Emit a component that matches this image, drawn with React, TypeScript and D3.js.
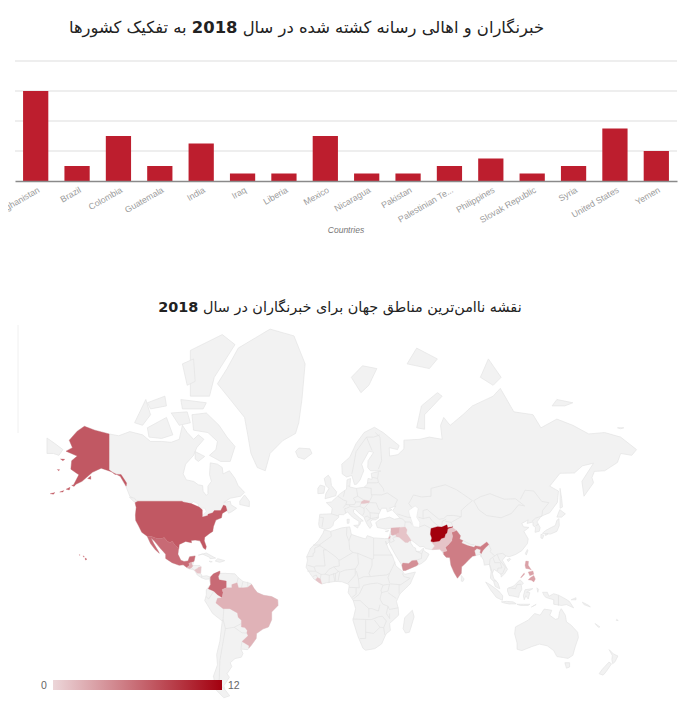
import React, { useEffect, useRef } from 'react';
import * as d3 from 'd3';

type Pt = [number, number];

const countries = ['Afghanistan', 'Brazil', 'Colombia', 'Guatemala', 'India', 'Iraq', 'Liberia', 'Mexico', 'Nicaragua', 'Pakistan', 'Palestinian Te...', 'Philippines', 'Slovak Republic', 'Syria', 'United States', 'Yemen'];
const deaths = [12, 2, 6, 2, 5, 1, 1, 6, 1, 1, 2, 3, 1, 2, 7, 4];
const yTicks = [0, 4, 8, 12, 16];

const titleBefore = 'خبرنگاران و اهالی رسانه کشته شده در سال ';
const titleAfter = ' به تفکیک کشورها';
const mapTitleBefore = 'نقشه ناامن‌ترین مناطق جهان برای خبرنگاران در سال ';
const year = '2018';

// outlines in lon/lat, all go through the mercator scales below
const land: Pt[][] = [
  // north america
  [[-168,65.6],[-164,66.5],[-166,68.3],[-161,70.3],[-156.5,71.3],[-150,70.5],[-141,69.7],[-135,69.3],[-128,70.2],[-120,69.5],[-115,68],[-108,68],[-102,67.8],[-97,68.5],[-95,71.5],[-92,70],[-88,68.5],[-85,69.5],[-81.5,68.5],[-86,66.5],[-88,64.5],[-93,62],[-94.5,59],[-92.5,57],[-88,56.5],[-85,55.3],[-82.3,55],[-82,52.9],[-80,51.3],[-79,52],[-79,54.8],[-76.8,56.5],[-78,58.8],[-77.5,62.4],[-73,62],[-70,61],[-69.5,59],[-65.5,60],[-62,57.5],[-60,55],[-56,52.5],[-58.5,51],[-65,50.2],[-69,48.5],[-65,49],[-64.5,47.5],[-61,46],[-64,44.5],[-66,43.8],[-67,45],[-70,43.7],[-70.5,41.7],[-74,40.6],[-75.5,37.5],[-76,35],[-78,33.9],[-81,32],[-81.3,30],[-80,26.8],[-80.5,25.2],[-81.8,26],[-82.8,28],[-84,30],[-87,30.4],[-89.5,30.2],[-89.3,29],[-93,29.7],[-97,28],[-97.5,25],[-97.8,22.4],[-96,19],[-94,18.2],[-91.5,18.5],[-90.5,21],[-87,21.5],[-87.7,18.3],[-88.7,15.9],[-84,15.8],[-83.3,14.9],[-83.6,11],[-82.5,9.2],[-79.7,9.5],[-77.4,8.7],[-78.3,7.5],[-80.5,7.3],[-83,8.3],[-85.7,10],[-87.5,13],[-91.5,14],[-94.5,16.2],[-97,15.9],[-101.5,17.5],[-105.5,20],[-105.5,22.5],[-109,26],[-112.7,30],[-114.7,31.5],[-113,28.5],[-110,24],[-109.5,23],[-112,25],[-115,28.5],[-117.1,32.5],[-120.5,34.5],[-122.5,37.8],[-124.3,40.4],[-124.5,43],[-124,46.3],[-124.7,48.4],[-123,49],[-128,51],[-130.3,54.5],[-134,58.2],[-140,59.8],[-146,60.8],[-151.5,59.5],[-154,58.4],[-158,56.5],[-163.5,55],[-160,58.7],[-165,60.5],[-164.5,63],[-161,64.3]],
  // canadian islands
  [[-80,73.8],[-72,71.5],[-67,69],[-62,66.8],[-65,62.8],[-71,62.8],[-78,64.5],[-74,66],[-73,68],[-79,70],[-88,70.5],[-89,73.5]],
  [[-117,71],[-105,73],[-101,69.5],[-108,68.7],[-116,69]],
  [[-125,72],[-118,76],[-115,73.5],[-120,71.5]],
  [[-90,76.5],[-78,76.5],[-75,79],[-62,82.3],[-70,83.1],[-90,81.8]],
  [[-96,76],[-80,75.5],[-82,74.5],[-95,74.5]],
  [[-117,75.5],[-106,76.5],[-105,75],[-115,74.5]],
  [[-95,80.5],[-88,81],[-87,78.5],[-92,78]],
  [[-102,73.8],[-92,74],[-90,72],[-97,71.5]],
  [[-87,65.5],[-81,64.2],[-85,62.8],[-87,63.5]],
  [[-59,47.6],[-53,46.7],[-53,49],[-56,51.5],[-59,49]],
  [[-128.3,50.7],[-125,50.2],[-123.4,48.4],[-125.5,48.8]],
  // caribbean
  [[-85,21.9],[-80,23.2],[-74.2,20.2],[-77.7,19.9],[-78,20.7],[-82.5,22.6]],
  [[-74.4,18.5],[-72.8,19.9],[-68.4,18.7],[-71.5,17.7]],
  [[-78.3,18.4],[-76.3,18.1],[-77.2,17.8]],
  // greenland, iceland
  [[-73,78.2],[-67,80],[-60,82],[-40,83.5],[-25,83],[-18,80.5],[-20,76],[-22,72],[-24,69.8],[-32,68.2],[-40,65],[-43,60],[-48,61],[-52,65],[-54,69.5],[-56,73],[-65,76]],
  [[-24,65.5],[-22,66.4],[-15,66.2],[-13.7,65],[-18.5,63.4],[-22.5,64]],
  // south america
  [[-77.4,8.7],[-75.5,10.7],[-71.5,12.4],[-71.5,11],[-68,11],[-62,10.7],[-60,8.4],[-57,6],[-52,4.7],[-50,1.5],[-48,-1],[-44,-2.7],[-39,-3.5],[-35.2,-5.5],[-35,-9],[-39,-13],[-39,-17.8],[-41,-22],[-44.5,-23.2],[-48.5,-25.8],[-48.7,-28.5],[-52,-32.5],[-54,-34.5],[-58.3,-34.2],[-57,-36.5],[-58,-38.3],[-62,-39],[-65,-41],[-64,-42.8],[-67,-46],[-65.5,-47.5],[-69,-51],[-68.3,-52.5],[-65.3,-54.8],[-69,-55.5],[-74,-52.5],[-75.5,-47],[-73,-42],[-73.5,-37],[-71.5,-30],[-70,-18.5],[-76,-14],[-81,-6],[-80,-2.5],[-80,0.8],[-77.3,4],[-78,7.5]],
  // africa
  [[-6,35.8],[-2,35],[5,36.8],[10,37.3],[11,33.5],[15,32.3],[20,31],[21,32.8],[25,31.6],[32,31.2],[34.3,31.3],[34.9,29.5],[33,28],[32.5,29.9],[34,26],[37,21],[39,15.5],[43.3,12],[44.5,10.4],[51.2,11.8],[48,4.5],[41.5,-1.8],[39.3,-6.5],[40.5,-11],[40.7,-15],[35,-20],[35.5,-24],[32.8,-26],[30,-31.5],[25.7,-34],[20,-34.8],[18.3,-33.8],[15,-27],[12,-18],[13.7,-11],[12.2,-6],[9,-1],[9.7,3.5],[8.5,4.5],[5,5.8],[1,6],[-4.5,5.2],[-7.5,4.4],[-12.5,7.5],[-15,11],[-17.4,14.7],[-16.5,19],[-17,21],[-14.5,26],[-9.7,30],[-6.8,34]],
  // eurasia
  [[-9,37],[-9.5,38.7],[-8.8,43.3],[-1.5,43.5],[-1,46],[-4.7,48.4],[-1.5,48.7],[1.5,50.5],[4,52],[8,53.7],[8.3,57],[10.5,57.5],[10,54.5],[14,54],[19,54.4],[21,55.5],[21.5,57.5],[24,57.2],[23.5,59.2],[29.5,59.9],[23,60],[21.3,61],[21.5,63],[25,65.3],[22,65.6],[17.5,62],[18.8,60],[16.5,57],[14.3,55.5],[13,55.4],[11.3,58.5],[8,58],[5.3,59],[5,62],[10,64],[14,67.5],[19,70],[25.5,71.1],[31,70],[41,67],[40,66],[34.8,66.5],[35,64.3],[38,64.5],[40.3,64.7],[44,66.2],[44,68.3],[54,68.5],[60,69],[68,68.5],[67,71.5],[69,73],[73,71.5],[75,72],[81,73.5],[87,75],[100,76.5],[104.5,77.6],[113,74],[125,73.5],[130,71],[140,72.7],[150,71.5],[160,69.7],[170,70],[180,69],[190,66],[187,64.5],[180,65],[178,62.5],[170,60],[163.5,59.8],[162,57.8],[163,56],[157,51],[155.7,56.5],[163,62.3],[156,61.5],[151,59.3],[142,59.2],[135.5,54.8],[141,53],[140.3,48.5],[135.5,44],[132,43],[130,42.3],[127.5,39.7],[129.5,37],[129,35.1],[126.3,34.5],[126.6,37],[125,38],[125,39.7],[121.3,39],[122,40.7],[118,39],[119,37.3],[122.5,37],[119.3,35],[122,31],[121.5,28.5],[118,24.5],[114,22.3],[110,21],[108,21.5],[105.8,19],[109,13.5],[107,10.5],[105,8.7],[105,10.3],[102.5,12.2],[100.5,13.5],[99.5,11],[100.3,8],[103,5],[104.2,1.4],[101.3,2.8],[100.3,6],[98.3,8],[98.7,12],[97.7,16.5],[94.5,16],[94,19],[91.8,22.4],[89,21.7],[87,21.3],[85,19.5],[82,16.5],[80.2,15],[80,11],[77.6,8],[75.5,11.5],[73.5,16],[72.8,20.5],[70.5,20.7],[69,22.3],[67.5,24.5],[66.5,25.4],[61.5,25.1],[57.5,25.7],[56.6,27],[54,26.7],[50.8,29],[48.8,30.3],[47.9,29.9],[48.5,28.5],[50,26.5],[51.3,26],[51.6,24.2],[54,24.1],[56.3,26],[56.5,24.5],[59.8,22.5],[57.7,19],[55,17],[52,15.7],[45,12.8],[43.5,12.7],[42.7,16],[39,21.5],[35,28],[34.9,29.5],[34.3,31.3],[35,33],[36,35.9],[36,36.7],[32.5,36.1],[30.5,36.5],[27.3,37],[26.3,39.4],[29,41],[31,41.2],[35,42],[38,41],[41.5,41.5],[39,43.5],[37,45],[39,47],[35,46],[36.5,45.3],[33.6,44.4],[33,46],[30,46],[28,43],[28,41.5],[26,40.7],[24,40.7],[23,39.8],[24,38],[22.7,36.5],[21,38.4],[19.4,41],[19,42],[15.5,44],[13.5,45.6],[12.3,45.3],[12.5,44],[16,41.8],[18.5,40.2],[16.8,40],[16.5,38.5],[15.7,38],[15.8,40],[12.3,41.7],[10.3,43],[8.7,44.4],[6,43.1],[3.2,43.2],[3,41.8],[0,39.8],[-0.5,38],[-2,36.8],[-5.5,36]],
  // chukotka piece left of alaska
  [[-180,68.8],[-175,67.5],[-170,66],[-172.5,64.5],[-176,65],[-180,65]],
  // europe and arctic islands
  [[-5.5,50],[1.3,51.2],[1.7,52.7],[-1.5,55],[-2,57.5],[-3.5,58.6],[-6,57.5],[-5,55],[-3,54],[-5,52]],
  [[-10,52],[-6.2,52.2],[-5.6,54.7],[-8.5,55.2],[-10,54]],
  [[12.5,38],[15.5,38.2],[15,36.7]],
  [[8.3,41],[9.7,41],[9.5,39.1],[8.5,39]],
  [[32.3,35],[34.5,35.6],[33.8,34.8]],
  [[11,79],[17,77],[22,78],[27,80],[18,80.3]],
  [[52,71],[57,70.7],[57,73.5],[68,76.5],[65,77],[55,75]],
  [[46,80.5],[60,80],[65,81],[52,82]],
  [[92,79],[100,78],[105,79],[97,81]],
  [[137,75],[145,75],[150,75.5],[140,76]],
  [[178,71],[182,71],[180,70.8]],
  // east asia
  [[142,54],[143,50],[143.5,46.5],[142,46],[142,50]],
  [[130.9,34],[136,33.6],[140,35],[141.5,38],[141.3,41.3],[140,40.5],[139,38],[136.5,37],[133,35.5]],
  [[140,42],[141.8,45.4],[145.3,43.5],[143,42]],
  [[130,33.5],[131.8,33],[131,31.2],[130,31.5]],
  [[132.5,33.5],[134.5,34],[134,33.3],[132.8,32.9]],
  [[120.2,23],[121.5,25.2],[121.8,24.5],[120.8,22]],
  [[108.7,19.3],[110.5,20],[111,19.5],[109.5,18.2]],
  [[80,9.7],[81.8,7.5],[81,6],[80,6.2]],
  // indonesia and the pacific
  [[95.3,5.6],[98,4],[103.5,0],[106,-3],[105.8,-5.8],[102,-4],[98.5,0.5]],
  [[105.2,-6.8],[108.5,-6.5],[112.5,-6.8],[114.5,-8],[110,-8.1],[106.5,-7.4]],
  [[109,1.5],[111.3,2.5],[113,3.2],[116.8,7],[119,5],[117.7,3.5],[118,1],[116.5,-1.5],[116,-4],[113,-3.3],[110,-2.8],[109,0]],
  [[119.5,-5.5],[119,-3],[120,0.8],[124.9,1.5],[121,-0.8],[123,-1],[122,-5],[120.5,-3]],
  [[131,-0.8],[134,-0.8],[135,-3.3],[138,-1.7],[141,-2.6],[145.5,-5],[147.8,-6.5],[150.5,-10.5],[146,-8.5],[143,-9],[138,-8.3],[138,-5.5],[133,-4],[132,-2.8]],
  [[115,-8.3],[119,-8.3],[123,-8.3],[122,-9],[117,-9]],
  [[124,-10],[127,-8.4],[125,-9.5]],
  [[127.5,2],[128.5,1],[128,-0.8]],
  [[149,-5.5],[152,-4.2],[152,-5.5]],
  [[156,-7],[160,-9],[161,-10],[157,-8.5]],
  [[164,-20],[167,-22],[166,-22.2]],
  [[177.5,-17.5],[178.5,-18.2],[177.3,-18.2]],
  // australia, nz, madagascar
  [[114,-22],[113.5,-26],[115,-31],[115,-34.3],[118,-35],[124,-33],[129,-31.6],[134,-32.5],[138,-35],[140,-38],[144,-38.5],[147,-38.9],[150,-37.4],[151.5,-33],[153.5,-28],[153,-25],[149,-21],[146,-19],[145.3,-15],[142.7,-11],[141.7,-13],[141,-17],[139,-17.5],[135.5,-15],[136.8,-12],[132,-11.3],[129.5,-15],[126,-14],[122,-18],[117,-20.5]],
  [[145,-41],[148,-41],[148,-43],[146,-43.5]],
  [[172.8,-34.5],[175.5,-36.7],[178.3,-37.7],[176.5,-40.5],[175,-41.5],[174.5,-39.5],[174.8,-37.5]],
  [[172.7,-40.7],[174.3,-41.5],[171,-45],[169,-46.6],[166.5,-46],[168.5,-44]],
  [[49.3,-12],[50.4,-16],[47.5,-25],[45,-25.5],[43.5,-23],[44.5,-16.5]],
];

const water: Pt[][] = [
  [[47,45],[51,47],[53,46],[52,42],[54,39.5],[53.8,37],[50,37.4],[49,40],[47.5,43]],
  [[-92,46.8],[-88,48.8],[-85,47.8],[-85,46.6],[-87.5,46.5]],
  [[-88,42],[-85,46],[-84.8,45.7],[-86.3,42]],
  [[-84.5,46],[-81,46],[-80,44.5],[-82.3,43],[-83.5,44]],
];

const borders: Pt[][] = [
  // africa
  [[-2,35],[-1.5,32.5],[-8.7,28],[-8.7,27.3]],[[-13,27.7],[-8.7,27.7]],[[-8.7,27.3],[-12,26],[-12,23.4],[-13,23],[-13,21.3],[-17,21]],
  [[-4.8,25],[-6.5,25],[-5.5,15.5],[-11.5,15.5],[-12.2,14.8],[-16.5,16]],[[-8.7,27.3],[-4.8,25],[1.2,21],[3.2,19],[4.2,19.2],[12,23.5],[10,25],[9.5,30],[8,33],[8.2,37]],
  [[9.5,30],[11,33.5]],[[25,31.6],[25,20],[24,19.5],[24,15.7],[22,11],[23,9],[18.8,8.9],[15.5,7.5],[14.2,12.4]],[[24,19.5],[15,23],[12,23.5]],[[25,22],[36.8,22]],
  [[15,23],[15.5,16.8],[13.5,13.7],[7,13],[3.7,11.7],[3,12.5]],[[3.2,19],[3.5,15.5],[0,15],[3,11.9]],[[-5.5,10.5],[-3,13.5],[0,15]],[[-5.5,10.5],[-2.8,9.8],[2,11.3],[3,12.5]],
  [[3.7,11.7],[2.7,6.4]],[[1.2,6.1],[1,11]],[[0.6,6],[-0.2,11]],[[-2.8,9.8],[-3,5]],[[-5.5,10.5],[-8,10.3],[-8.5,7.6]],[[-8,10.3],[-11.5,12.3],[-12.2,14.8]],[[-16.7,12.4],[-11.5,12.3]],[[-13.2,9],[-11,10],[-10.3,8.5]],
  [[13.5,13.7],[13.5,10],[8.8,4.7]],[[9.7,2.3],[16,2]],[[15.5,7.5],[16,2]],[[18.6,3.5],[23,4.5],[27.5,5],[31,3.7],[35,4.3],[34,0],[30,-1],[29.6,0.5],[31,3.7]],[[23,9],[27,9.5],[33,10],[35,11]],
  [[38.5,18],[36.5,14],[35,11],[34,8.5],[35,5]],[[35,4.5],[41,4],[42,4]],[[41.9,3.9],[48,8],[44,9],[43,11]],[[41,4],[41,-1.7]],[[34,-1],[39.2,-4.7]],[[30,-1],[29,-5],[30.7,-8.2],[34,-9.5],[34.9,-11.5],[40.5,-10.5]],
  [[34,-9.5],[33,-14],[35,-17],[35,-14]],[[12.2,-6],[16.5,-6],[22,-11],[24,-11],[28,-12.5],[29,-8.5]],[[12.2,-5],[16,-2],[18.6,3.5]],[[11.5,-4],[14,-2],[14,2]],[[11.8,-17.3],[23.5,-17.7],[28,-16],[30.4,-15.6],[33,-18.5],[31.3,-22.4],[32,-26.5]],
  [[22,-11],[22,-16.3]],[[20,-18],[20,-28.5],[16.5,-28.6]],[[20,-25],[25,-25.7],[29,-22.2],[31.3,-22.4]],[[25.5,-18],[29,-22.2]],
  // south america
  [[-60,8.4],[-60.7,5.2]],[[-57,6],[-58,2]],[[-54,5.8],[-54,2.3]],[[-80.3,-3.4],[-78.5,-5],[-75.3,-0.1]],[[-69,-11],[-69.5,-17.5],[-70,-18.5]],[[-69.5,-17.5],[-68,-23],[-70,-33],[-71.5,-40],[-72,-50],[-68.5,-52.5]],
  [[-68,-23],[-62.5,-22.2],[-58,-20]],[[-62.5,-22.2],[-57.6,-25.4],[-54.6,-25.5]],[[-58.3,-34],[-57.6,-30.2]],
  // central america
  [[-89.3,14.4],[-87.7,13.2]],[[-83,9.7],[-82.9,8.1]],
  // europe
  [[-1.5,43.5],[3.2,42.5]],[[-8.8,42],[-6.5,41.8],[-7.4,37.2]],[[2.5,51],[6,49.5],[8.2,49],[7.5,47.6]],[[6,46.3],[7.5,47.6],[9.5,47.5],[10.4,46.8],[8,46],[6.8,45.8],[7.5,43.8]],[[7,53.3],[6,50.8]],[[8.7,54.9],[10,54.8]],[[14.2,54],[15,51],[12.3,50.2],[13.8,48.7],[13,47.6],[9.5,47.5]],
  [[10.4,46.8],[13.7,46.5],[16.3,46.8],[17,48]],[[13.8,48.7],[17,48.7]],[[15,51],[18.8,49.5]],[[22.5,49.1],[24,51],[23.5,52],[23.5,54],[19,54.4]],[[16.3,46.8],[19,46],[22.1,48.4],[26.6,48.3],[28.2,45.5],[29.6,45.2]],[[22.7,44],[28.5,43.7]],[[20.3,46.1],[22.7,44],[23,41.3],[26.3,41.7],[28,42]],[[20.7,40],[23,41.3]],[[19,46],[19,44],[18,42.7]],[[19.3,42],[21,42.5],[23,41.3]],
  [[41.5,41.5],[43.5,41],[44.8,39.7],[44.5,37.7],[44.8,37.2]],[[44.8,39.7],[48,39.7],[48.9,38.4]],[[39.8,43.5],[46,42],[48.5,41.8]],[[21,56],[27,56],[28,56.2]],[[24,57.9],[27.5,57.5]],[[28,59.5],[27.5,57.5],[28,56.2],[31,54],[31.5,52.8]],[[23.7,51.6],[30,51.5],[33.5,52.3],[40,49.6],[38.2,47.1]],
  [[28,60.5],[30,63],[29,69],[26,70]],[[24,65.8],[20.5,69],[25,69],[29,69.5]],[[20.5,69],[14,65.5],[12.2,61],[11.3,59]],
  // asia
  [[49,46.3],[47,48],[50,51.5],[55,50.7],[61,51],[61,54],[70,55.3],[77,53.5],[83,51],[87,49.2],[83,47],[80,45],[80,42.2],[75,42.8],[71,42.7],[69,41.3],[66,41],[61,44],[58.6,45.5],[56,45],[56,41.3],[53,42]],[[56,41.3],[60,42],[62,40],[66,37.5]],[[53.8,37.3],[57,38.2],[61,36.5]],[[67.8,37.2],[68,40],[70.5,41]],[[70,40],[73.7,39.5]],[[80,42.2],[73.7,39.5],[74.8,37.3]],[[77,35.5],[79.5,32.7]],[[81,30.2],[86,28],[88.2,27.9]],
  [[97.3,28],[98.7,25],[98,24],[101,21.5],[102.5,22.5],[106,23],[108,21.5]],[[101,21.5],[98,19.5],[97.7,16.5],[99,13],[99.5,11]],[[92.5,22.8],[92.3,20.8]],[[100,20.3],[101,17.5],[104.5,17.5],[105.5,14.3]],[[102.5,22.5],[104,19],[107.5,15],[107.5,14.5],[106,11],[104.5,10.4]],[[102.8,12.5],[103,14.2],[105.5,14.3]],
  [[87.8,49.2],[92,50.8],[98,52],[102,51],[107,49.8],[114,50],[119.8,47],[116,47.5],[111.5,43.7],[105,41.7],[96,42.7],[91,45.3],[87.8,49.2]],[[117,49.7],[120,53.3],[125.5,53],[130.5,48.9],[135,48.4],[131,45],[130.6,42.5],[126.5,41.5],[124.4,40]],[[126.7,37.8],[128.4,38.6]],
  [[36.8,33],[39.2,32.2],[37,31.5],[38,30],[36,29.2],[35,29.4]],[[52,19],[55,20],[55.2,22.7],[56,24.8]],[[51.6,24.2],[55.2,22.7]],[[35,29.5],[35.5,32.5]],[[100.3,6.5],[102,6.2]],[[141,-2.6],[141,-9.2]],[[109.6,2],[114,1.5],[115,4],[117.5,4.2]],
  [[44.7,29.2],[46.5,29.1]],[[36,33.3],[35,33]],
];

// countries in the table, one name per group of outlines
const shapes: { name: string; rings: Pt[][] }[] = [
  { name: 'United States', rings: [
    [[-124.7,48.4],[-123,49],[-95.2,49],[-94.6,48.7],[-89.5,48],[-84.5,46.5],[-82.5,45.3],[-82.5,42],[-79,42.8],[-79,43.3],[-76,44],[-75,45],[-71,45],[-69.2,47.4],[-67.8,47],[-67,45],[-70,43.7],[-70.5,41.7],[-74,40.6],[-75.5,37.5],[-76,35],[-78,33.9],[-81,32],[-81.3,30],[-80,26.8],[-80.5,25.2],[-81.8,26],[-82.8,28],[-84,30],[-87,30.4],[-89.5,30.2],[-89.3,29],[-93,29.7],[-97,28],[-97.2,25.9],[-99.5,27.5],[-101.4,29.8],[-103,29],[-104.7,30],[-106.5,31.8],[-108.2,31.3],[-111,31.3],[-114.8,32.5],[-117.1,32.5],[-120.5,34.5],[-122.5,37.8],[-124.3,40.4],[-124.5,43],[-124,46.3]],
    [[-141,69.7],[-150,70.5],[-156.5,71.3],[-161,70.3],[-166,68.3],[-164,66.5],[-168,65.6],[-161,64.3],[-164.5,63],[-165,60.5],[-160,58.7],[-163.5,55],[-158,56.5],[-154,58.4],[-151.5,59.5],[-146,60.8],[-140,59.8],[-134,58.2],[-130.3,54.8],[-130,55.9],[-133.5,58.8],[-137.5,58.9],[-141,60.3]],
    [[-154.5,57.5],[-152.5,58.3],[-152.5,57.2]],
    [[-171.5,63.5],[-168.8,63.4],[-170,63]],
    [[-173.5,60.4],[-172,60.3],[-172.8,60]],
    [[-168,53.7],[-165.5,54.4],[-166,53.4]],[[-172,52.6],[-169.5,53.2],[-170,52.6]],[[-178,52],[-175,52.4],[-176,51.8]],[[-164.5,55.1],[-162,55.4],[-163,54.7]],
    [[-156,20.2],[-155,19.7],[-155.6,19],[-156,19.6]],[[-157.3,21.6],[-156.5,21],[-157,20.8]],[[-159.7,22.2],[-159.3,22.2],[-159.5,21.8]],
  ] },
  { name: 'Mexico', rings: [[[-117.1,32.5],[-114.8,32.5],[-111,31.3],[-108.2,31.3],[-106.5,31.8],[-104.7,30],[-103,29],[-101.4,29.8],[-99.5,27.5],[-97.2,25.9],[-97.5,25],[-97.8,22.4],[-96,19],[-94,18.2],[-91.5,18.5],[-90.5,21],[-87,21.5],[-87.7,18.3],[-89.2,17.8],[-91,17.2],[-90.5,16],[-92.2,14.6],[-94.5,16.2],[-97,15.9],[-101.5,17.5],[-105.5,20],[-105.5,22.5],[-109,26],[-112.7,30],[-114.7,31.5],[-113,28.5],[-110,24],[-109.5,23],[-112,25],[-115,28.5]]] },
  { name: 'Guatemala', rings: [[[-92.2,14.6],[-90.5,16],[-91,17.2],[-89.2,17.8],[-88.9,15.9],[-88.3,15.7],[-89.3,14.4],[-90.5,13.8]]] },
  { name: 'Nicaragua', rings: [[[-87.5,13],[-85.7,14],[-84.9,14.8],[-83.2,15],[-83.6,11],[-85.7,11.1]]] },
  { name: 'Colombia', rings: [[[-77.4,8.7],[-75.5,10.7],[-71.5,12.4],[-71.5,11],[-72.5,9],[-72,7],[-67.5,6.2],[-67.5,2],[-70,1],[-69.5,-1],[-70,-4.2],[-73,-2.3],[-75.3,-0.1],[-78.8,1.4],[-77.3,4],[-77.5,7]]] },
  { name: 'Brazil', rings: [[[-51.6,4.2],[-50,1.5],[-48,-1],[-44,-2.7],[-39,-3.5],[-35.2,-5.5],[-35,-9],[-39,-13],[-39,-17.8],[-41,-22],[-44.5,-23.2],[-48.5,-25.8],[-48.7,-28.5],[-52,-32.5],[-53.4,-33.7],[-53.2,-32.5],[-57.6,-30.2],[-53.8,-27],[-54.6,-25.5],[-54.3,-24],[-55.8,-22.3],[-58,-22],[-58,-18],[-60,-16.3],[-60.5,-13.7],[-65.3,-11],[-69.5,-11],[-74,-7.5],[-73,-4.5],[-70,-4.2],[-69.5,-1],[-70,1],[-67.5,2],[-64,2],[-64,4],[-60.7,5.2],[-59.8,2],[-56.5,2],[-54,2.3]]] },
  { name: 'Liberia', rings: [[[-11.5,6.9],[-10.3,8.5],[-8.5,7.6],[-7.5,4.4],[-9,5]]] },
  { name: 'Slovak Republic', rings: [[[17,48],[17.3,48.8],[19,49.5],[22.5,49.1],[22.1,48.4],[19,48]]] },
  { name: 'Iraq', rings: [[[38.8,33.4],[41,34.4],[41.3,37],[44.8,37.2],[46,35.8],[45.5,34],[46.5,32.8],[48,31],[48.5,30],[47.7,30],[46.5,29.1],[44.7,29.2],[41,32],[39.2,32.2]]] },
  { name: 'Syria', rings: [[[35.9,35.9],[36,36.7],[38,36.8],[41.3,37],[41,34.4],[38.8,33.4],[36.8,33],[36,33.3],[35.9,35]]] },
  { name: 'Palestinian Te...', rings: [[[34.3,31.3],[35.1,31.3],[35.5,32.4],[35,32.4]]] },
  { name: 'Yemen', rings: [[[42.7,16],[43.3,17.3],[47,17],[49,18.7],[52,19],[53.1,16.7],[52,15.7],[45,12.8],[43.5,12.7]]] },
  { name: 'India', rings: [[[68.8,23.9],[71,24.4],[70,26.5],[72,28],[74,30],[74.5,32.5],[74,34.5],[77,35.5],[79.5,32.7],[79,31],[81,30.2],[80.2,28.8],[84,27.4],[88,26.4],[88.8,27.3],[92,26.8],[96,29.4],[97.3,28],[95,26],[93.5,24.5],[92.5,22.8],[91.8,23.5],[92.2,25],[89.8,25.7],[88.3,24.5],[89,21.7],[87,21.3],[85,19.5],[82,16.5],[80.2,15],[80,11],[77.6,8],[75.5,11.5],[73.5,16],[72.8,20.5],[70.5,20.7],[69,22.3]]] },
  { name: 'Pakistan', rings: [[[60.9,29.8],[62.5,29.4],[66.3,29.9],[67.5,31.3],[69.5,31.8],[70,33.5],[71,34.2],[71.5,36.3],[74.5,37],[77,35.5],[74,34.5],[74.5,32.5],[74,30],[72,28],[70,26.5],[71,24.4],[68.8,23.9],[67.5,24.5],[66.5,25.4],[61.5,25.1],[63.3,27.2]]] },
  { name: 'Afghanistan', rings: [[[60.9,29.8],[61.5,31.5],[60.6,33.5],[61,36.5],[65,37.4],[67.8,37.2],[71,38.3],[71.5,36.9],[74.8,37.3],[71.5,36.3],[71,34.2],[70,33.5],[69.5,31.8],[67.5,31.3],[66.3,29.9],[62.5,29.4]]] },
  { name: 'Philippines', rings: [
    [[120.5,18.5],[122.2,18.3],[122,16],[124,13],[122.5,13.7],[120.5,14],[120,16]],
    [[122,7],[123.5,8.5],[125.5,9.7],[126.5,7.5],[125.5,5.7],[124,6.8]],
    [[122,11.8],[125,12.5],[125.5,10.5],[123,9.5]],
    [[117.2,8.4],[119.5,11.3],[119.7,10.5],[117.8,8.4]],
  ] },
];

const legendMin = 0;
const legendMax = 12;

const App: React.FC = () => {
  const svgRef = useRef<SVGSVGElement | null>(null);

  useEffect(() => {
    if (!svgRef.current) return;
    const svg = d3.select(svgRef.current);
    svg.selectAll('*').remove();

    const defs = svg.append('defs');
    // the first label runs off the left edge of the chart frame
    defs.append('clipPath').attr('id', 'label-clip').append('rect')
      .attr('x', 8).attr('y', -2).attr('width', 680).attr('height', 60);
    defs.append('filter').attr('id', 'soft').attr('x', '-2%').attr('y', '-2%').attr('width', '104%').attr('height', '104%')
      .append('feGaussianBlur').attr('stdDeviation', 0.5);

    // bar chart
    const x = d3.scaleBand<string>().domain(countries).range([15, 677]).paddingInner(0.39).paddingOuter(0.195);
    const y = d3.scaleLinear().domain([0, 16]).range([181, 61]);

    svg.append('g').selectAll('line').data(yTicks.slice(1)).enter().append('line')
      .attr('x1', 15).attr('x2', 677)
      .attr('y1', d => y(d)).attr('y2', d => y(d))
      .attr('stroke', '#dddddd').attr('stroke-width', 1.2);

    svg.append('g').selectAll('rect').data(deaths).enter().append('rect')
      .attr('x', (_, i) => x(countries[i])!)
      .attr('y', d => y(d))
      .attr('width', x.bandwidth())
      .attr('height', d => y(0) - y(d))
      .attr('fill', '#bd1e2e');

    const axis = svg.append('g')
      .attr('transform', `translate(0,${y(0)})`)
      .attr('clip-path', 'url(#label-clip)')
      .call(d3.axisBottom(x).tickSize(0).tickPadding(0));
    axis.select('.domain').attr('stroke', '#8a8a8a').attr('stroke-width', 1.3);
    axis.selectAll<SVGTextElement, string>('text')
      .attr('transform', 'translate(3,8) rotate(-30)')
      .attr('x', 0).attr('y', 0).attr('dy', '0.35em')
      .attr('text-anchor', 'end')
      .attr('font-family', '"Liberation Sans", sans-serif')
      .attr('font-size', 8.8)
      .attr('fill', '#9b9b9b');

    svg.append('text').attr('x', 346).attr('y', 233)
      .attr('text-anchor', 'middle')
      .attr('font-family', '"Liberation Sans", sans-serif')
      .attr('font-style', 'italic').attr('font-size', 8.5).attr('fill', '#777777')
      .text('Countries');

    const addTitle = (cx: number, cy: number, size: number, before: string, after: string) => {
      const t = svg.append('text').attr('x', cx).attr('y', cy)
        .attr('direction', 'rtl').attr('text-anchor', 'middle')
        .attr('font-family', '"DejaVu Sans", sans-serif')
        .attr('font-size', size).attr('fill', '#222222');
      t.append('tspan').text(before);
      t.append('tspan').attr('font-weight', 'bold').text(year);
      if (after) t.append('tspan').text(after);
    };
    addTitle(306.5, 33, 16.4, titleBefore, titleAfter);
    addTitle(340, 312, 14.4, mapTitleBefore, '');

    // map: mercator via raw projection so that lon > 180 does not wrap
    const rad = Math.PI / 180;
    const mapX = d3.scaleLinear().domain([0, 1]).range([333.8, 333.8 + 91.3]);
    const mapY = d3.scaleLinear().domain([0, 1]).range([591, 591 - 91.3]);
    const project = (p: Pt): Pt => {
      const [mx, my] = d3.geoMercatorRaw(p[0] * rad, p[1] * rad);
      return [mapX(mx), mapY(my)];
    };
    const ringPath = d3.line<Pt>().x(d => project(d)[0]).y(d => project(d)[1]);
    const closed = (r: Pt[]) => ringPath(r) + 'Z';

    const color = d3.scaleLinear<string>().domain([legendMin, legendMax]).range(['#ecd6d9', '#a3000f']);
    const valueOf = (name: string) => deaths[countries.indexOf(name)];

    const map = svg.append('g').attr('filter', 'url(#soft)');
    map.append('g').selectAll('path').data(land).enter().append('path')
      .attr('d', closed).attr('fill', '#f2f2f2').attr('stroke', '#e4e4e4').attr('stroke-width', 0.7);
    map.append('g').selectAll('path').data(water).enter().append('path')
      .attr('d', closed).attr('fill', '#ffffff').attr('stroke', '#e4e4e4').attr('stroke-width', 0.5);
    map.append('g').selectAll('path').data(borders).enter().append('path')
      .attr('d', d => ringPath(d)).attr('fill', 'none').attr('stroke', '#e2e2e2').attr('stroke-width', 0.7);
    map.append('g').selectAll('path').data(shapes).enter().append('path')
      .attr('d', d => d.rings.map(closed).join(''))
      .attr('fill', d => color(valueOf(d.name)))
      .attr('stroke', d => color(valueOf(d.name))).attr('stroke-width', 0.3);

    // legend
    const gradient = defs.append('linearGradient').attr('id', 'legend-gradient');
    gradient.append('stop').attr('offset', '0%').attr('stop-color', color(legendMin));
    gradient.append('stop').attr('offset', '100%').attr('stop-color', color(legendMax));
    const legendX = d3.scaleLinear().domain([legendMin, legendMax]).range([53, 222]);
    svg.append('rect').attr('x', legendX(legendMin)).attr('y', 680)
      .attr('width', legendX(legendMax) - legendX(legendMin)).attr('height', 10)
      .attr('fill', 'url(#legend-gradient)');
    [legendMin, legendMax].forEach(v => {
      svg.append('text')
        .attr('x', v === legendMin ? legendX(v) - 9 : legendX(v) + 6)
        .attr('y', 689)
        .attr('text-anchor', v === legendMin ? 'middle' : 'start')
        .attr('font-family', '"Liberation Sans", sans-serif')
        .attr('font-size', 10.5).attr('fill', '#666666')
        .text(String(v));
    });

    // faint scan line left of the map
    svg.append('line').attr('x1', 18).attr('x2', 18).attr('y1', 325).attr('y2', 433)
      .attr('stroke', '#f0f0f0').attr('stroke-width', 1);
  }, []);

  return (
    <svg ref={svgRef} width={696} height={722}
      style={{ position: 'absolute', left: 0, top: 0, background: '#ffffff' }} />
  );
};

export default App;
